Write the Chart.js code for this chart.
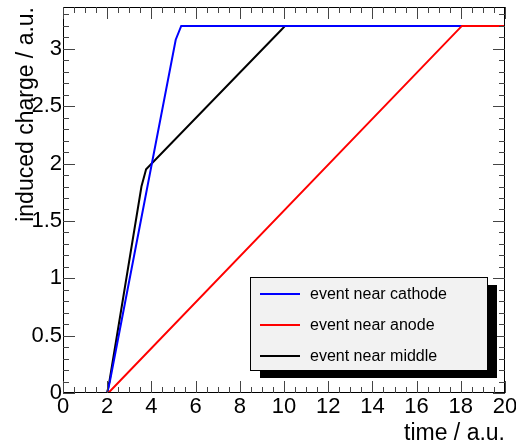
<!DOCTYPE html>
<html>
<head>
<meta charset="utf-8">
<script src="https://cdn.jsdelivr.net/npm/chart.js@4.4.1/dist/chart.umd.min.js"></script>
<style>
  html, body { margin: 0; padding: 0; background: #fff; }
  #wrap { width: 516px; height: 447px; }
</style>
</head>
<body>
<div id="wrap"><canvas id="chargeChart" width="516" height="447"></canvas></div>
<script>
// series (time, induced charge)
const cathodeT = [0, 2.0, 2.12, 5.1, 5.35, 20];
const cathodeQ = [0, 0, 0.1, 3.08, 3.2, 3.2];
const anodeT = [0, 2.05, 18.05, 20];
const anodeQ = [0, 0, 3.2, 3.2];
const middleT = [0, 2.0, 2.1, 3.55, 3.76, 9.85, 10.05, 20];
const middleQ = [0, 0, 0.1, 1.8, 1.95, 3.16, 3.2, 3.2];

const seriesNames = ['event near cathode', 'event near anode', 'event near middle'];
const seriesColors = ['#0000ff', '#ff0000', '#000000'];

const xTicks = [0, 2, 4, 6, 8, 10, 12, 14, 16, 18, 20];
const yTicks = [0, 0.5, 1, 1.5, 2, 2.5, 3];
const xRange = [0, 20];
const yRange = [0, 3.365];

const FONT = "'Liberation Sans', Arial, sans-serif";

function toPoints(xs, ys) {
    return xs.map((x, i) => ({ x: x, y: ys[i] }));
}

// ROOT style frame with inward ticks on all four sides
const frameTicks = {
    id: 'frameTicks',
    afterDraw(chart) {
        const { ctx, chartArea: a, scales } = chart;
        const xs = scales.x, ys = scales.y;
        ctx.save();
        ctx.strokeStyle = '#000';
        ctx.lineWidth = 1;
        ctx.strokeRect(a.left + 0.5, a.top + 0.5, a.right - a.left - 1, a.bottom - a.top - 1);
        ctx.strokeStyle = '#444';
        ctx.beginPath();
        for (let v = xRange[0]; v <= xRange[1] + 1e-9; v += 0.5) {
            const px = Math.round(xs.getPixelForValue(v)) + 0.5;
            const len = Math.abs(v % 2) < 1e-6 ? 12 : 6;
            ctx.moveTo(px, a.bottom); ctx.lineTo(px, a.bottom - len);
            ctx.moveTo(px, a.top); ctx.lineTo(px, a.top + len);
        }
        for (let i = 0; i * 0.1 <= yRange[1] + 1e-9; i++) {
            const py = Math.round(ys.getPixelForValue(i * 0.1)) + 0.5;
            const len = i % 5 === 0 ? 12 : 6;
            ctx.moveTo(a.left, py); ctx.lineTo(a.left + len, py);
            ctx.moveTo(a.right, py); ctx.lineTo(a.right - len, py);
        }
        ctx.stroke();
        ctx.restore();
    }
};

// legend box with drop shadow inside the plot
const boxLegend = {
    id: 'boxLegend',
    afterDraw(chart) {
        const ctx = chart.ctx;
        const bx = 250, by = 277, bw = 237, bh = 93;
        ctx.save();
        ctx.fillStyle = '#000';
        ctx.fillRect(bx + 10, by + 8, bw, bh);
        ctx.fillStyle = '#f2f2f2';
        ctx.fillRect(bx, by, bw, bh);
        ctx.strokeStyle = '#000';
        ctx.lineWidth = 1;
        ctx.strokeRect(bx + 0.5, by + 0.5, bw, bh);
        ctx.font = '16px ' + FONT;
        ctx.textBaseline = 'middle';
        chart.data.datasets.forEach((ds, i) => {
            const cy = by + 17 + i * 31;
            ctx.strokeStyle = ds.borderColor;
            ctx.lineWidth = 2;
            ctx.beginPath();
            ctx.moveTo(bx + 10, cy); ctx.lineTo(bx + 50, cy);
            ctx.stroke();
            ctx.fillStyle = '#000';
            ctx.fillText(ds.label, bx + 60, cy + 1);
        });
        ctx.restore();
    }
};

const ctx = document.getElementById('chargeChart').getContext('2d');
const chargeChart = new Chart(ctx, {
    type: 'scatter',
    data: {
        datasets: [
            { label: seriesNames[0], data: toPoints(cathodeT, cathodeQ), borderColor: seriesColors[0], order: 1 },
            { label: seriesNames[1], data: toPoints(anodeT, anodeQ), borderColor: seriesColors[1], order: 0 },
            { label: seriesNames[2], data: toPoints(middleT, middleQ), borderColor: seriesColors[2], order: 2 }
        ].map(d => Object.assign(d, { showLine: true, pointRadius: 0, borderWidth: 2, fill: false, tension: 0 }))
    },
    options: {
        responsive: false,
        animation: false,
        layout: { padding: { top: 7, right: 11, left: 0, bottom: 0 } },
        plugins: { legend: { display: false }, tooltip: { enabled: false } },
        scales: {
            x: {
                type: 'linear',
                min: xRange[0], max: xRange[1],
                afterBuildTicks: s => { s.ticks = xTicks.map(v => ({ value: v })); },
                afterFit: s => { s.height = 54; s.paddingLeft = 0; s.paddingRight = 0; },
                grid: { display: false, drawTicks: false },
                border: { display: false },
                ticks: { color: '#000', font: { family: FONT, size: 22 }, padding: 1, maxRotation: 0, autoSkip: false, callback: v => String(v) },
                title: { display: true, text: 'time / a.u.', align: 'end', color: '#000', font: { family: FONT, size: 23 }, padding: { top: 0, bottom: 0 } }
            },
            y: {
                type: 'linear',
                min: yRange[0], max: yRange[1],
                afterBuildTicks: s => { s.ticks = yTicks.map(v => ({ value: v })); },
                afterFit: s => { s.width = 63; s.paddingTop = 0; s.paddingBottom = 0; },
                grid: { display: false, drawTicks: false },
                border: { display: false },
                ticks: { color: '#000', font: { family: FONT, size: 22 }, padding: 1, autoSkip: false, callback: v => String(v) },
                title: { display: true, text: 'induced charge / a.u.', align: 'end', color: '#000', font: { family: FONT, size: 23 }, padding: { top: 13, bottom: 0 } }
            }
        }
    },
    plugins: [frameTicks, boxLegend]
});
</script>
</body>
</html>
